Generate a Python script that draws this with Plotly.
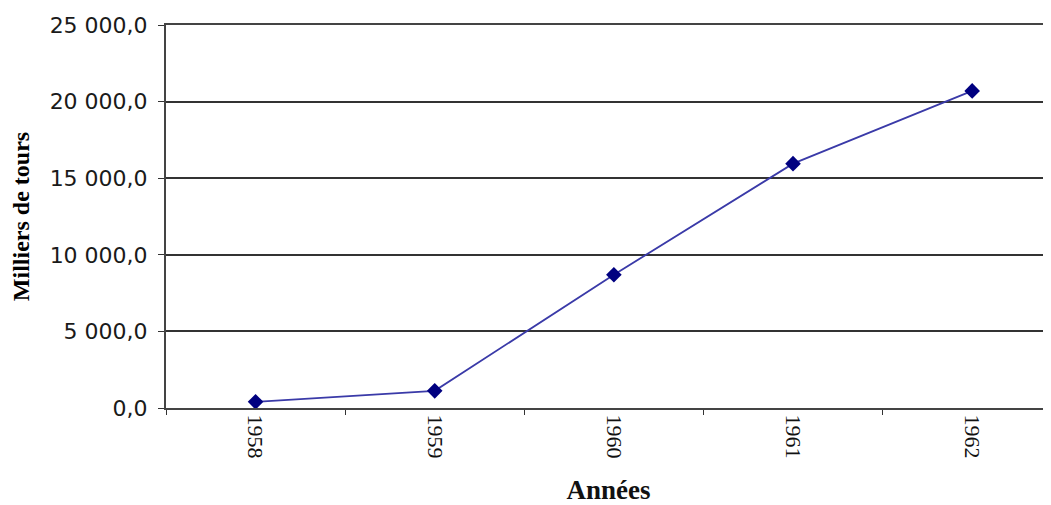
import plotly.graph_objects as go

years = ["1958", "1959", "1960", "1961", "1962"]
values = [400, 1120, 8700, 15950, 20700]
y_ticks = [0, 5000, 10000, 15000, 20000, 25000]

fig = go.Figure()
fig.add_trace(go.Scatter(
    x=years, y=values, mode="lines+markers",
    line=dict(color="#3a3aa8", width=1.8),
    marker=dict(symbol="diamond", size=12, color="#000080"),
    showlegend=False,
))

# the page body has an 8px default margin; compensate so the plot lands where the reference has it
fig.update_layout(
    width=1043, height=497,
    margin=dict(l=158, r=0, t=17, b=97),
    paper_bgcolor="white", plot_bgcolor="white",
    separators=", ",
    xaxis=dict(
        type="category", range=[-0.5, 4.44], automargin=False,
        tickangle=90, tickson="boundaries", ticks="outside", ticklen=5,
        tickcolor="#333", showgrid=False, showline=True, mirror=True,
        linecolor="#444", linewidth=2,
        tickfont=dict(family="Liberation Serif, Times New Roman, serif", size=22, color="#111"),
        title=dict(text="<b>Années</b>", standoff=27,
                   font=dict(family="Liberation Serif, Times New Roman, serif", size=27, color="#111")),
    ),
    yaxis=dict(
        range=[0, 25000], tickvals=y_ticks, tickformat=",.1f", automargin=False,
        ticks="outside", ticklen=6, tickcolor="#333",
        showgrid=True, gridcolor="#333", gridwidth=2,
        showline=True, linecolor="#444", linewidth=2, zeroline=False,
        ticklabelstandoff=6,
        tickfont=dict(family="DejaVu Sans, Verdana, sans-serif", size=22, color="#1a1a1a"),
        title=dict(text="<b>Milliers de tours</b>", standoff=14,
                   font=dict(family="Liberation Serif, Times New Roman, serif", size=24, color="#000")),
    ),
)

fig.write_html("out.html")
